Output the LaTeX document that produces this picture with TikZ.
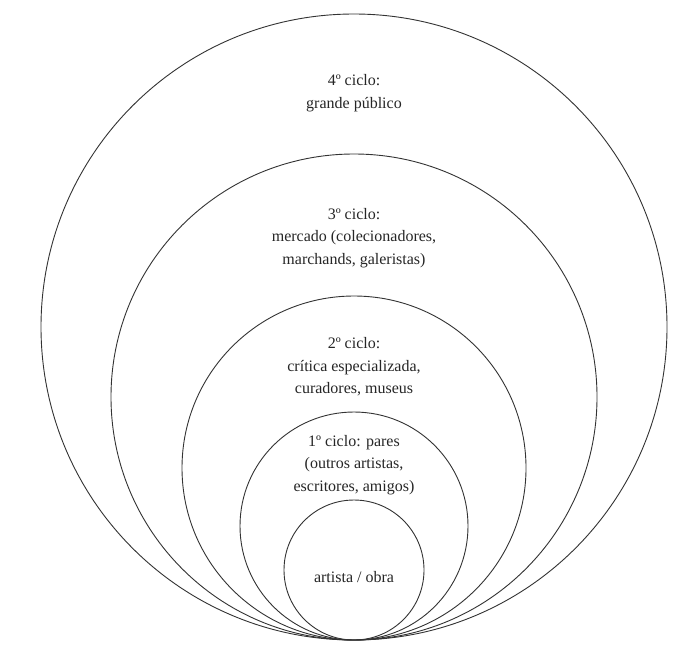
\documentclass[tikz,border=0pt]{standalone}
\usepackage{fontspec}
\setmainfont{Liberation Serif}
\usetikzlibrary{positioning}

\begin{document}
\begin{tikzpicture}[
  x=1pt, y=-1pt,
  ring/.style={draw=black!80, line width=0.9pt},
  cycletext/.style={align=center, font=\fontsize{16}{22.5}\selectfont, text=black!85}
]
\useasboundingbox[fill=white] (0,0) rectangle (692,654);

% nested cycles, all touching at the bottom
\draw[ring] (354,327) circle (313);
\draw[ring] (354,397) circle (243);
\draw[ring] (354,468) circle (172);
\draw[ring] (354,526) circle (114);
\draw[ring] (354,570) circle (70);

\node[cycletext] (c4) at (354,93) {4º ciclo:\\grande público};
\node[cycletext] (c3) at (354,238) {3º ciclo:\\mercado (colecionadores,\\marchands, galeristas)};
\node[cycletext] (c2) at (354,367) {2º ciclo:\\crítica especializada,\\curadores, museus};
\node[cycletext] (c1) at (354,465) {1º ciclo: pares\\(outros artistas,\\escritores, amigos)};
\node[cycletext] (obra) at (354,577) {artista / obra};
\end{tikzpicture}
\end{document}
